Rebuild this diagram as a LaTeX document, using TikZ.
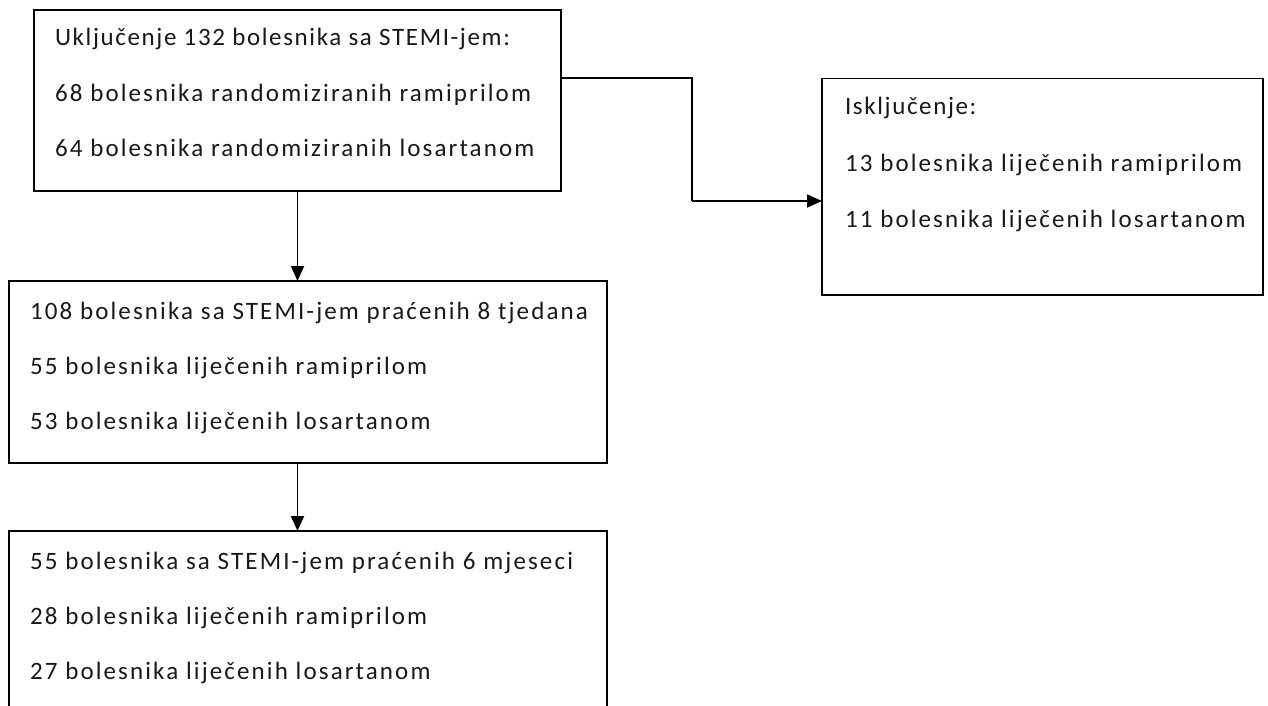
\documentclass[tikz,border=0pt]{standalone}
\usepackage{fontspec}
\setmainfont{Carlito}[LetterSpace=8.5]
\usetikzlibrary{arrows.meta}
\tikzset{
  box/.style={draw=black, line width=1.8pt, rectangle, inner sep=0pt, outer sep=0pt},
  txt/.style={anchor=base west, inner sep=0pt, outer sep=0pt, font=\fontsize{25pt}{30pt}\selectfont, text=black!90},
  tight/.style={font=\fontsize{25pt}{30pt}\selectfont\addfontfeature{LetterSpace=6.5}},
  arr/.style={line width=1.8pt, -{Triangle[length=15pt,width=13pt]}},
  con/.style={line width=1.8pt}
}
\begin{document}
\begin{tikzpicture}[x=1pt,y=-1pt]
\useasboundingbox (0,0) rectangle (1268,706);
\clip (0,0) rectangle (1268,706);
\fill[white] (0,0) rectangle (1268,706);
% boxes
\node[box, minimum width=527pt, minimum height=181pt] (b1) at (297.5,100.5) {};
\node[box, minimum width=441pt, minimum height=216.5pt] (b2) at (1042.5,186.75) {};
\node[box, minimum width=598pt, minimum height=182pt] (b3) at (308,372) {};
\node[box, minimum width=598pt, minimum height=200pt] (b4) at (308,631) {};
% texts
\node[txt, tight] (t11) at (55,46) {Uključenje 132 bolesnika sa STEMI-jem:};
\node[txt] (t12) at (55,101.5) {68 bolesnika randomiziranih ramiprilom};
\node[txt] (t13) at (55,157) {64 bolesnika randomiziranih losartanom};
\node[txt, tight] (t21) at (845,115) {Isključenje:};
\node[txt] (t22) at (845,171) {13 bolesnika liječenih ramiprilom};
\node[txt] (t23) at (845,227) {11 bolesnika liječenih losartanom};
\node[txt] (t31) at (30,319) {108 bolesnika sa STEMI-jem praćenih 8 tjedana};
\node[txt] (t32) at (30,374) {55 bolesnika liječenih ramiprilom};
\node[txt] (t33) at (30,429) {53 bolesnika liječenih losartanom};
\node[txt] (t41) at (30,569) {55 bolesnika sa STEMI-jem praćenih 6 mjeseci};
\node[txt] (t42) at (30,624) {28 bolesnika liječenih ramiprilom};
\node[txt] (t43) at (30,679) {27 bolesnika liječenih losartanom};
% connectors
\coordinate (k1) at (692,78);
\coordinate (k2) at (692,201);
\draw[arr] (b1.south) -- (b1.south |- b3.north);
\draw[arr] (b3.south -| b1.south) -- (b4.north -| b1.south);
\draw[con] (b1.east |- k1) -- (k1) -- (k2);
\draw[arr] (k2) -- (b2.west |- k2);
\end{tikzpicture}
\end{document}
